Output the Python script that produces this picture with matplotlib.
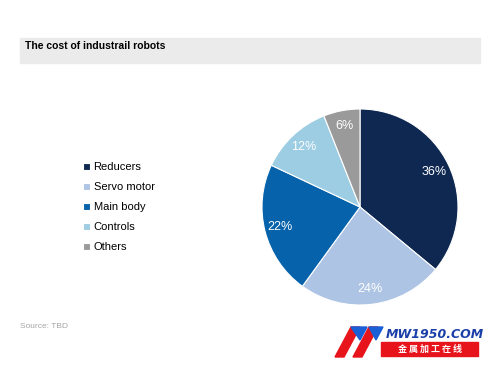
import matplotlib.pyplot as plt
from matplotlib.patches import Rectangle, Polygon

# Data
labels = ["Reducers", "Servo motor", "Main body", "Controls", "Others"]
shares = [36, 24, 22, 12, 6]
colors = ["#0f2852", "#aec4e4", "#0562ab", "#9dcde2", "#9a9a9a"]

W, H = 500, 375
fig = plt.figure(figsize=(5, 3.75), dpi=100)

# title band
fig.patches.append(Rectangle((20 / W, 1 - 63 / H), 460 / W, 25 / H,
                             transform=fig.transFigure, color="#ebebeb", zorder=0))
fig.text(25 / W, 1 - 46 / H, "The cost of industrail robots", fontsize=7.5,
         fontweight="bold", va="center", ha="left", family="Liberation Sans")

# pie
cx, cy, r = 360, 207, 98
ax = fig.add_axes([(cx - r) / W, 1 - (cy + r) / H, 2 * r / W, 2 * r / H])
wedges, texts, autotexts = ax.pie(
    shares, colors=colors, startangle=90, counterclock=False,
    autopct="%d%%", pctdistance=0.84,
    wedgeprops=dict(edgecolor="white", linewidth=0.8),
    textprops=dict(color="white", fontsize=9, family="Liberation Sans"))
ax.set_xlim(-1.0, 1.0)
ax.set_ylim(-1.0, 1.0)
ax.set_aspect("equal")

# legend
fig.legend(wedges, labels, loc="upper left",
           bbox_to_anchor=(73 / W, 1 - 152 / H), frameon=False,
           handlelength=0.6, handleheight=0.6, handletextpad=0.35,
           labelspacing=0.9, prop=dict(size=8, family="Liberation Sans"))

fig.text(20 / W, 1 - 326 / H, "Source: TBD", fontsize=6, color="#a6a6a6",
         va="center", family="Liberation Sans")

# watermark logo
def fpoly(pts, c):
    fig.patches.append(Polygon([(x / W, 1 - y / H) for x, y in pts], closed=True,
                               transform=fig.transFigure, color=c))

fpoly([(335, 357), (351, 327), (360, 327), (344, 357)], "#e8141c")
fpoly([(351, 327), (367, 327), (360, 340)], "#1a5fd6")
fpoly([(353, 357), (369, 327), (378, 327), (362, 357)], "#e8141c")
fpoly([(369, 327), (383, 327), (376, 340)], "#1a5fd6")
fig.text(386 / W, 1 - 334 / H, "MW1950.COM", fontsize=9, style="italic",
         fontweight="bold", color="#1b3fa8", va="center", ha="left",
         family="Liberation Sans Narrow")
fig.patches.append(Rectangle((381 / W, 1 - 356 / H), 97 / W, 14 / H,
                             transform=fig.transFigure, color="#e8141c"))
fig.text(429.5 / W, 1 - 349 / H, "金 属 加 工 在 线", fontsize=6.5, color="white",
         fontweight="bold", va="center", ha="center", family="Noto Sans CJK SC")

fig.savefig("out.png", dpi=100)
